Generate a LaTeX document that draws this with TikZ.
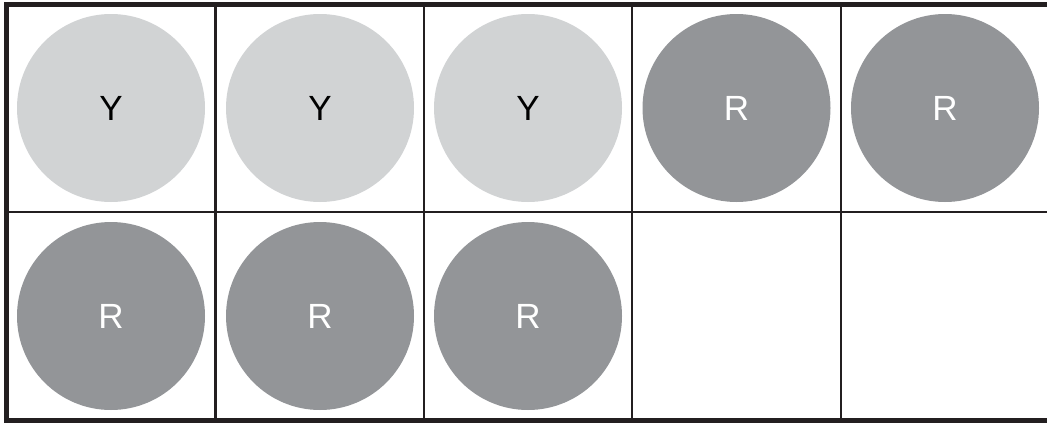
\documentclass[tikz,border=0pt]{standalone}
\usepackage{fontspec}
\setmainfont{Liberation Sans}
\definecolor{lightball}{HTML}{D1D3D4}
\definecolor{darkball}{HTML}{939598}
\definecolor{gridline}{HTML}{231F20}
\begin{document}
\begin{tikzpicture}[x=1pt,y=-1pt,
  ball/.style={circle,minimum size=188pt,inner sep=0pt,font=\fontsize{35}{35}\selectfont},
  yball/.style={ball,fill=lightball,text=black},
  rball/.style={ball,fill=darkball,text=white},
  inner/.style={draw=gridline,line width=2.2pt},
  outer/.style={draw=gridline,line width=4.5pt}]
\useasboundingbox (0,0) rectangle (1047,423);
\clip (0,0) rectangle (1047,423);
% inner grid lines
\draw[inner] (6.5,212) -- (1050,212);
\foreach \x in {215.5,424,632,841} \draw[inner] (\x,4.5) -- (\x,420.5);
% outer border
\draw[outer] (1052,4.5) -- (6.5,4.5) -- (6.5,420.5) -- (1052,420.5);
% balls
\node[yball] (b1) at (111,108) {Y};
\node[yball] (b2) at (320,108) {Y};
\node[yball] (b3) at (528,108) {Y};
\node[rball] (b4) at (736.5,108) {R};
\node[rball] (b5) at (945,108) {R};
\node[rball] (b6) at (111,316) {R};
\node[rball] (b7) at (320,316) {R};
\node[rball] (b8) at (528,316) {R};
\end{tikzpicture}
\end{document}
